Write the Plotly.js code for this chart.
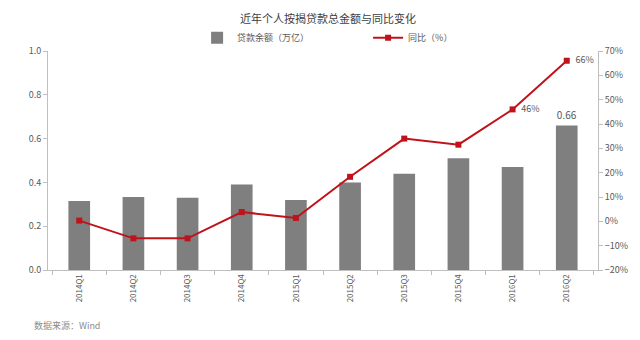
<!DOCTYPE html>
<html>
<head>
<meta charset="utf-8">
<script src="https://cdn.plot.ly/plotly-3.0.1.min.js"></script>
<style>html,body{margin:0;padding:0;background:#fff;}#chart{width:640px;height:340px;}</style>
</head>
<body>
<div id="chart"></div>
<script>
var quarters = ["2014Q1","2014Q2","2014Q3","2014Q4","2015Q1","2015Q2","2015Q3","2015Q4","2016Q1","2016Q2"];
var balance = [0.315, 0.333, 0.330, 0.390, 0.320, 0.400, 0.440, 0.510, 0.470, 0.660];
var yoy = [0.3, -7.0, -7.0, 3.8, 1.4, 18.3, 34.0, 31.5, 46.0, 66.0];
var balanceLabels = ["","","","","","","","","","0.66"];
var yoyLabels = ["","","","","","","","","  46%","  66%"];

var FONT = '"Noto Sans CJK SC", "Noto Sans", sans-serif';
var AX = '#bfbfbf';
var TXT = '#595959';

var traces = [
  {
    type: 'bar', x: quarters, y: balance, name: '贷款余额（万亿）',
    marker: {color: '#7f7f7f'}, width: 0.4,
    text: balanceLabels, textposition: 'outside', cliponaxis: false,
    textfont: {size: 10, color: TXT, family: FONT},
    hoverinfo: 'none'
  },
  {
    type: 'scatter', mode: 'lines+markers+text', x: quarters, y: yoy, yaxis: 'y2',
    name: '同比（%）',
    line: {color: '#c0121b', width: 2},
    marker: {symbol: 'square', size: 6, color: '#c0121b'},
    text: yoyLabels, textposition: 'middle right', cliponaxis: false,
    textfont: {size: 9, color: TXT, family: FONT},
    hoverinfo: 'none'
  }
];

var layout = {
  width: 640, height: 340,
  margin: {l: 48, r: 42, t: 51, b: 70},
  paper_bgcolor: '#fff', plot_bgcolor: '#fff',
  font: {family: FONT, size: 9, color: TXT},
  showlegend: true,
  title: {text: '近年个人按揭贷款总金额与同比变化', font: {size: 11, color: '#404040', family: FONT}, x: 0.5125, xanchor: 'center', y: 0.944, yanchor: 'middle'},
  legend: {orientation: 'h', x: 0.582, xanchor: 'center', y: 1.06, yanchor: 'middle',
           font: {size: 9, color: TXT, family: FONT}, bgcolor: 'rgba(0,0,0,0)',
           entrywidth: 126, entrywidthmode: 'pixels', traceorder: 'normal', itemwidth: 30},
  bargap: 0.6,
  xaxis: {
    type: 'category', showline: true, linecolor: AX, linewidth: 1,
    ticks: 'outside', tickson: 'boundaries', ticklen: 4, tickcolor: AX,
    tickangle: -90, tickfont: {size: 8, color: TXT}, showgrid: false, zeroline: false, fixedrange: true
  },
  yaxis: {
    range: [0, 1], dtick: 0.2, tickformat: '.1f', showline: true, linecolor: AX, linewidth: 1,
    ticks: 'outside', ticklen: 4, tickcolor: AX, showgrid: false, zeroline: false,
    tickfont: {size: 9, color: TXT}
  },
  yaxis2: {
    overlaying: 'y', side: 'right', range: [-20, 70], dtick: 10, ticksuffix: '%',
    showline: true, linecolor: AX, linewidth: 1, ticks: 'outside', ticklen: 4, tickcolor: AX,
    showgrid: false, zeroline: false, tickfont: {size: 9, color: TXT}
  },
  annotations: [
    {text: '数据来源：Wind', xref: 'paper', yref: 'paper', x: -0.03, y: -0.255, xanchor: 'left', yanchor: 'middle',
     showarrow: false, font: {size: 9, color: '#8c8c8c', family: FONT}}
  ]
};

Plotly.newPlot('chart', traces, layout, {displayModeBar: false, staticPlot: true});
</script>
</body>
</html>
